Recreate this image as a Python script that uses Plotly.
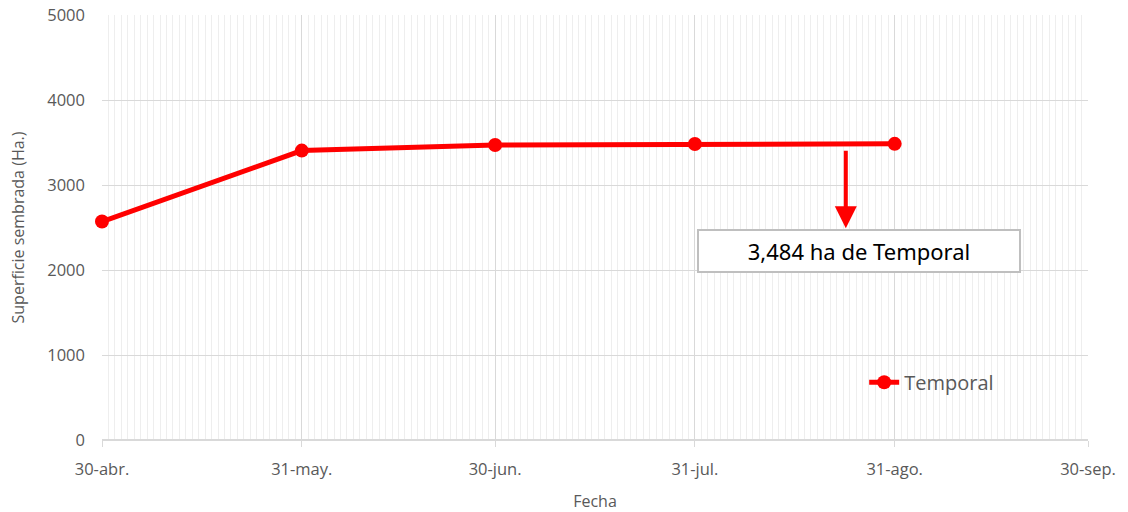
import plotly.graph_objects as go

fechas = ["2023-04-30", "2023-05-31", "2023-06-30", "2023-07-31", "2023-08-31"]
temporal = [2570, 3405, 3470, 3482, 3484]

tick_vals = ["2023-04-30", "2023-05-31", "2023-06-30", "2023-07-31", "2023-08-31", "2023-09-30"]
tick_text = ["30-abr.", "31-may.", "30-jun.", "31-jul.", "31-ago.", "30-sep."]
y_ticks = [0, 1000, 2000, 3000, 4000, 5000]

label_text = "3,484 ha de Temporal"

gray = "#595959"
fig = go.Figure()
fig.add_trace(go.Scatter(
    x=fechas, y=temporal, mode="lines+markers", name="Temporal",
    line=dict(color="#FF0000", width=5),
    marker=dict(color="#FF0000", size=14),
    cliponaxis=False,
))

# arrow
fig.add_annotation(
    x="2023-08-23 10:00", y=2490, ax="2023-08-23 10:00", ay=3420,
    xref="x", yref="y", axref="x", ayref="y",
    text="", showarrow=True, arrowhead=2, arrowsize=1.1, arrowwidth=4,
    arrowcolor="#FF0000",
)
# label box
fig.add_annotation(
    x="2023-08-25 12:00", y=2229, xref="x", yref="y",
    text=label_text, showarrow=False,
    font=dict(family="Noto Sans", size=22, color="#000000"),
    bgcolor="white", bordercolor="#bfbfbf", borderwidth=2,
    width=318, height=38, borderpad=1,
)

fig.update_layout(
    width=1128, height=512,
    margin=dict(l=102, r=40, t=15, b=72, autoexpand=False),
    paper_bgcolor="white", plot_bgcolor="white",
    font=dict(family="Open Sans", color=gray, size=16),
    showlegend=True,
    legend=dict(x=0.773, y=0.136, xanchor="left", yanchor="middle",
                bgcolor="rgba(0,0,0,0)", font=dict(size=20, color=gray)),
    xaxis=dict(
        type="date", range=["2023-04-30", "2023-09-30"],
        tickmode="array", tickvals=tick_vals, ticktext=tick_text,
        showgrid=True, gridcolor="#d9d9d9", gridwidth=1,
        ticks="outside", ticklen=6, tickcolor="#d9d9d9",
        ticklabelstandoff=8,
        tickfont=dict(size=16.5, color=gray),
        showline=False, zeroline=False, automargin=False,
        minor=dict(dtick=86400000, tick0="2023-04-30", showgrid=True,
                   gridcolor="#eeeeee", gridwidth=1, ticks=""),
        title=dict(text="Fecha", font=dict(size=16, color=gray), standoff=20),
    ),
    yaxis=dict(
        range=[0, 5000], tickmode="array", tickvals=y_ticks,
        showgrid=True, gridcolor="#d9d9d9", gridwidth=1,
        zeroline=True, zerolinecolor="#d9d9d9", zerolinewidth=2,
        tickfont=dict(size=16.5, color=gray), ticks="",
        ticklabelstandoff=16, automargin=False,
        title=dict(text="Superficie sembrada (Ha.)", font=dict(size=16, color=gray), standoff=18),
    ),
)

fig.write_html("out.html", config={"displayModeBar": False},
               post_script="document.body.style.margin='0';")
